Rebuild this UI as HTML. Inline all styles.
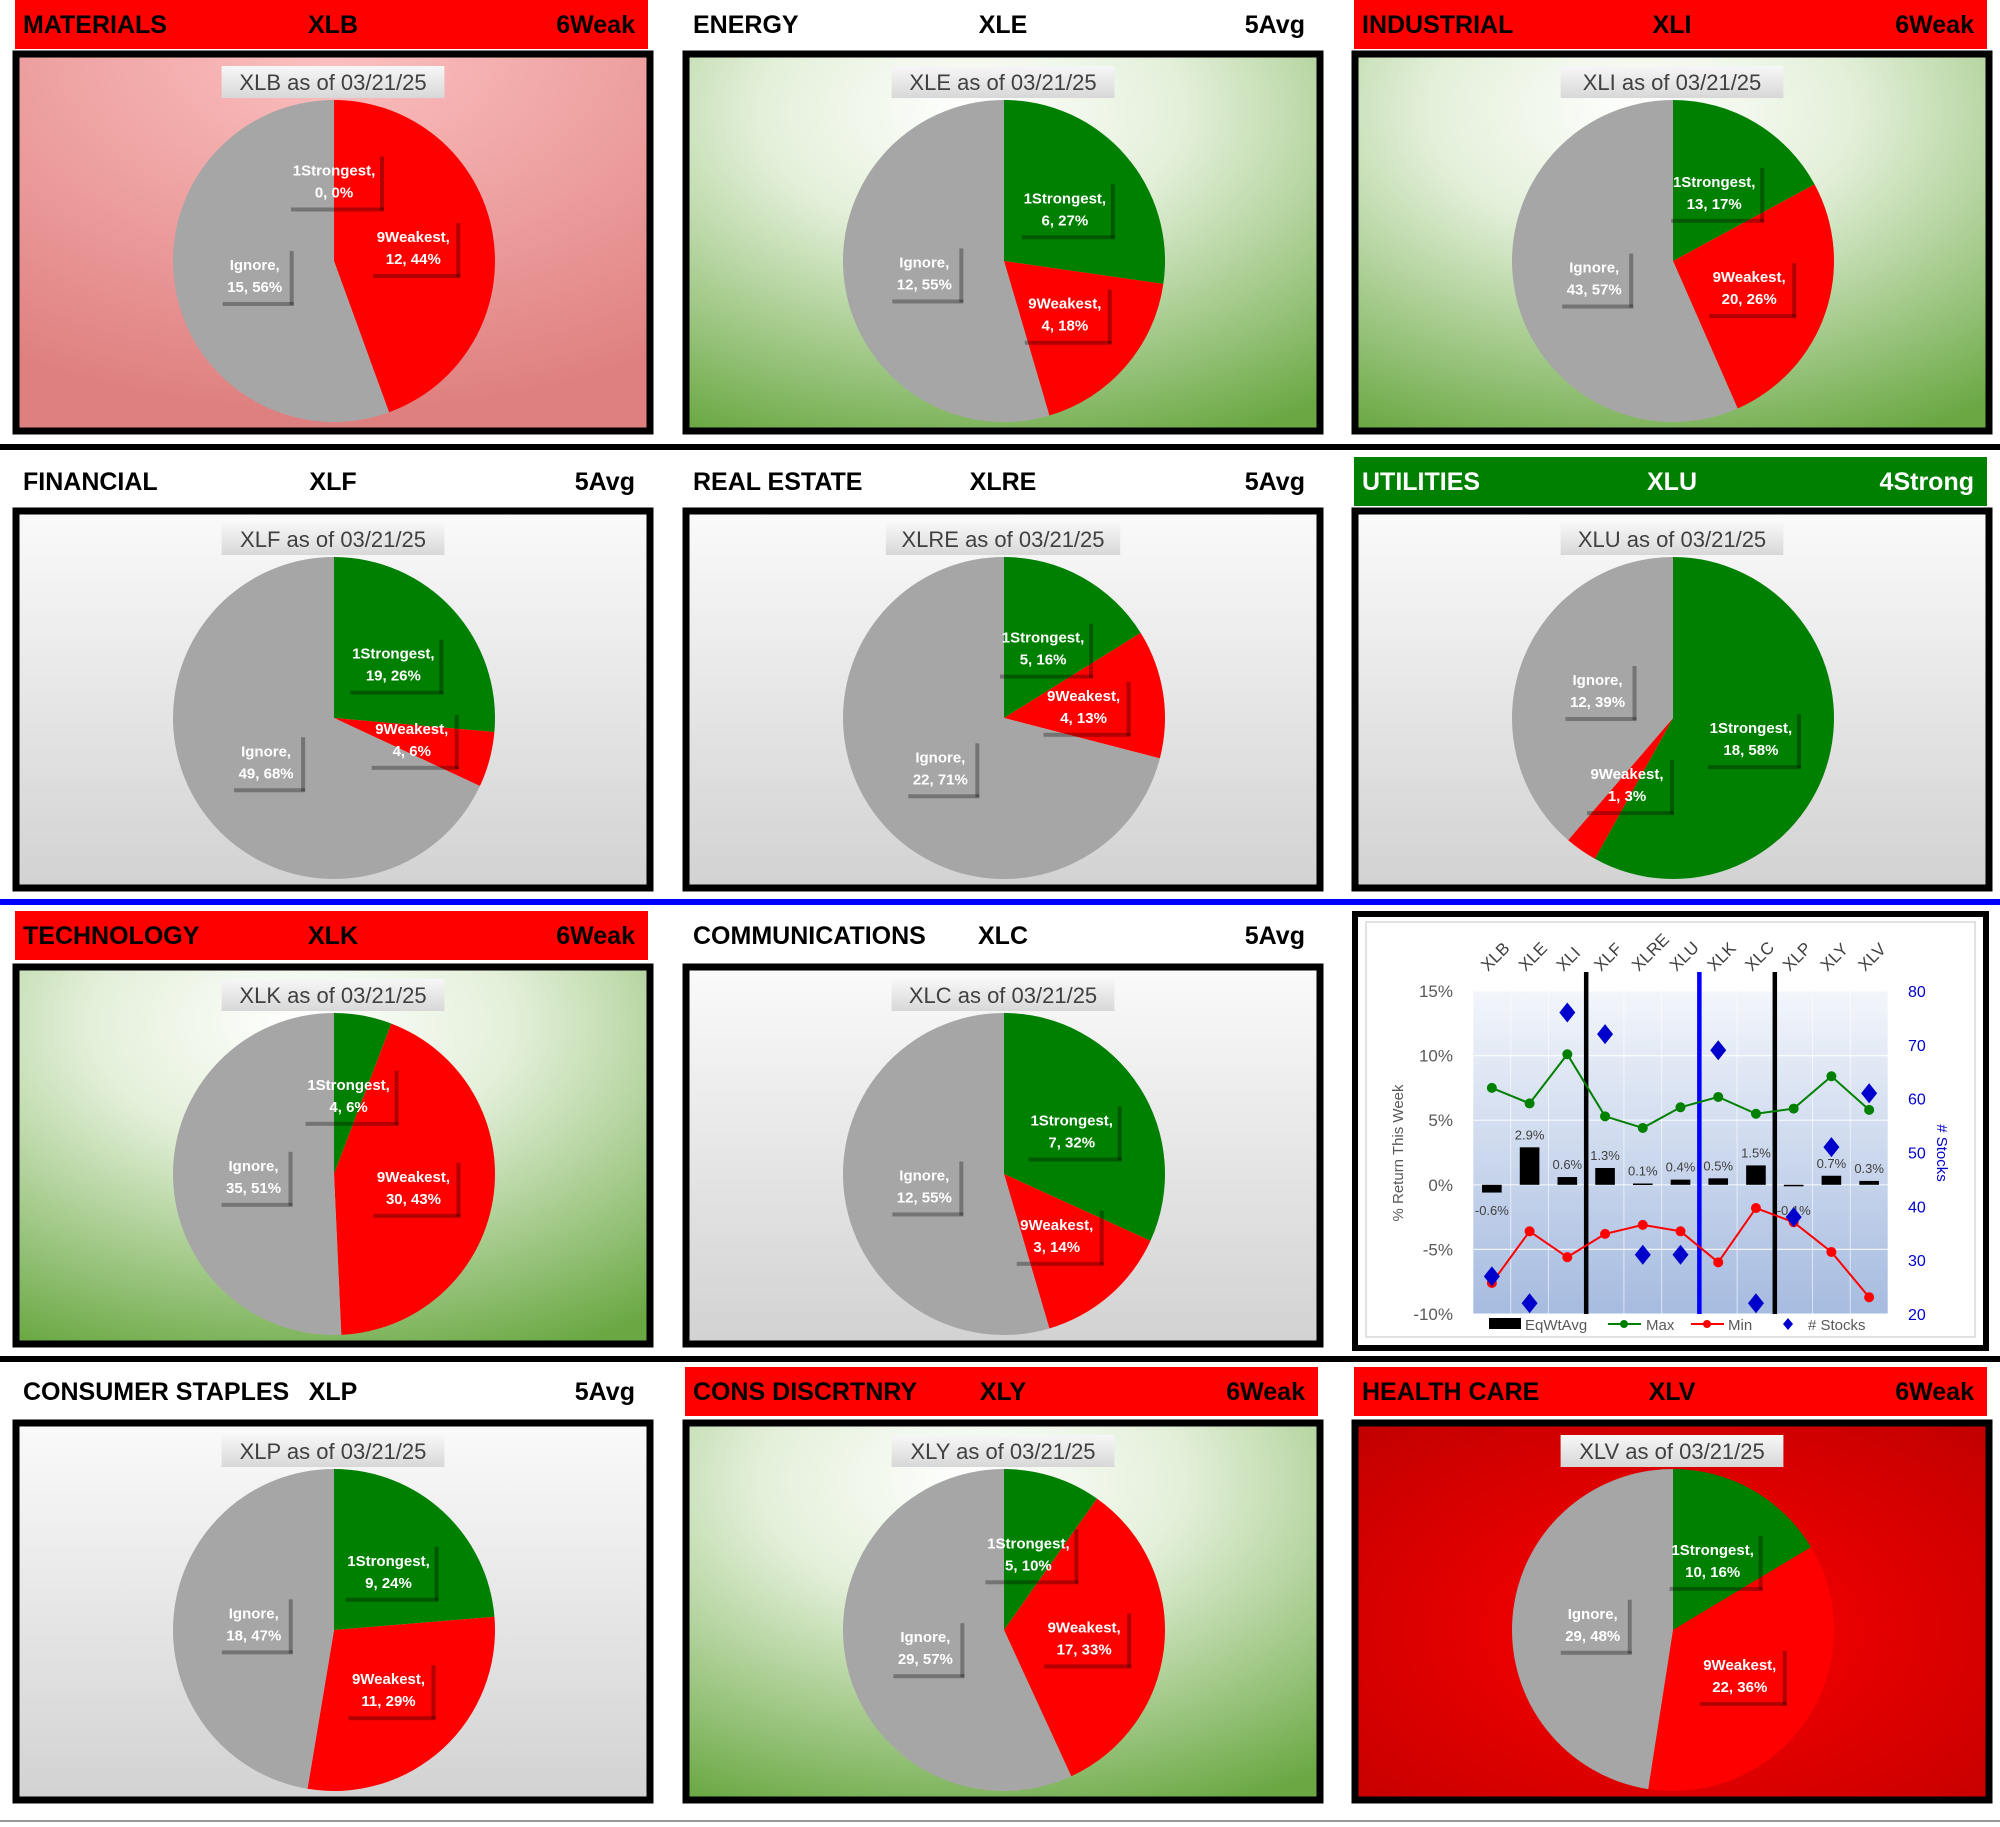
<!DOCTYPE html>
<html><head><meta charset="utf-8"><style>
html,body{margin:0;padding:0;background:#fff;}
svg{display:block;font-family:"Liberation Sans",sans-serif;}
.b{font-weight:bold;}
</style></head><body>
<svg id="s" width="2000" height="1827" viewBox="0 0 2000 1827" xmlns="http://www.w3.org/2000/svg">
<defs>
<radialGradient id="gPink" cx="50%" cy="0%" r="95%"><stop offset="0" stop-color="#fcc0c0"/><stop offset="1" stop-color="#df8080"/></radialGradient>
<radialGradient id="gGreen" cx="45%" cy="15%" r="95%"><stop offset="0" stop-color="#ffffff"/><stop offset="0.35" stop-color="#e4f0da"/><stop offset="1" stop-color="#6aa843"/></radialGradient>
<linearGradient id="gGray" x1="0" y1="0" x2="0" y2="1"><stop offset="0" stop-color="#fafafa"/><stop offset="1" stop-color="#d2d2d2"/></linearGradient>
<radialGradient id="gRed" cx="50%" cy="55%" r="75%"><stop offset="0" stop-color="#ff0000"/><stop offset="1" stop-color="#c00000"/></radialGradient>
<linearGradient id="gTitle" x1="0" y1="0" x2="0" y2="1"><stop offset="0" stop-color="#f7f7f7"/><stop offset="1" stop-color="#d8d8d8"/></linearGradient>
<linearGradient id="gPlot" x1="0" y1="0" x2="0" y2="1"><stop offset="0" stop-color="#f3f6fb"/><stop offset="1" stop-color="#a6bbe0"/></linearGradient>
</defs>
<g id="panels"></g>
<g id="combo"></g>
</svg>
<script>
// ---- pie panel data ----
const tickers = ["XLB","XLE","XLI","XLF","XLRE","XLU","XLK","XLC","XLP","XLY","XLV"];
const sectorNames = ["MATERIALS","ENERGY","INDUSTRIAL","FINANCIAL","REAL ESTATE","UTILITIES","TECHNOLOGY","COMMUNICATIONS","CONSUMER STAPLES","CONS DISCRTNRY","HEALTH CARE"];
const ratings = ["6Weak","5Avg","6Weak","5Avg","5Avg","4Strong","6Weak","5Avg","5Avg","6Weak","6Weak"];
const strongestCounts = [0,6,13,19,5,18,4,7,9,5,10];
const weakestCounts = [12,4,20,4,4,1,30,3,11,17,22];
const ignoreCounts = [15,12,43,49,22,12,35,12,18,29,29];
const panelBg = ["gPink","gGreen","gGreen","gGray","gGray","gGray","gGreen","gGray","gGray","gGreen","gRed"];
const asOf = "03/21/25";

// ---- combo chart data ----
const eqWtAvg = [-0.6,2.9,0.6,1.3,0.1,0.4,0.5,1.5,-0.1,0.7,0.3];
const maxRet = [7.5,6.3,10.1,5.3,4.4,6.0,6.8,5.5,5.9,8.4,5.8];
const minRet = [-7.6,-3.6,-5.6,-3.8,-3.1,-3.6,-6.0,-1.8,-2.9,-5.2,-8.7];
const stockCounts = [27,22,76,72,31,31,69,22,38,51,61];
const leftTicks = [-10,-5,0,5,10,15];
const rightTicks = [20,30,40,50,60,70,80];
const dividerAfter = [2,5,7];

const NS="http://www.w3.org/2000/svg";
function mk(tag,attrs,parent,txt){const e=document.createElementNS(NS,tag);for(const k in attrs)e.setAttribute(k,attrs[k]);if(txt!==undefined)e.textContent=txt;parent.appendChild(e);return e;}

const panels=document.getElementById('panels');
const colL=[13,683,1352];
const rowHeadTop=[0,457,911,1367];
const rowBoxTop=[51,508,964,1420];
let sep;
sep=mk('rect',{x:0,y:444,width:2000,height:6,fill:'#000'},panels);

sep=mk('rect',{x:0,y:899,width:2000,height:6,fill:'#0000ff'},panels);

sep=mk('rect',{x:0,y:1356,width:2000,height:6,fill:'#000'},panels);

sep=mk('rect',{x:0,y:1820,width:2000,height:2,fill:'#999'},panels);


const sliceColors=['#008000','#ff0000','#a6a6a6'];
const sliceNames=['1Strongest','9Weakest','Ignore'];
for(let i=0;i<tickers.length;i++){
  const slot=i<8?i:i+1;
  const col=slot%3,row=Math.floor(slot/3);
  const L=colL[col], ht=rowHeadTop[row], bt=rowBoxTop[row];
  const g=mk('g',{},panels);
  
  
  const r=ratings[i];
  let hf=null, tc='#000';
  if(r.indexOf('Weak')>=0) hf='#ff0000';
  else if(r.indexOf('Strong')>=0){hf='#008000';tc='#fff';}
  if(hf){const hb=mk('rect',{x:L+2,y:ht,width:633,height:49,fill:hf},g);
    }
  let t=mk('text',{x:L+10,y:ht+33,'font-size':25,fill:tc,'class':'b'},g,sectorNames[i]);
  
  t=mk('text',{x:L+320,y:ht+33,'font-size':25,fill:tc,'class':'b','text-anchor':'middle'},g,tickers[i]);
  
  t=mk('text',{x:L+622,y:ht+33,'font-size':25,fill:tc,'class':'b','text-anchor':'end'},g,r);
  
  const bx=mk('rect',{x:L+3,y:bt+3,width:634,height:377,fill:'url(#'+panelBg[i]+')',stroke:'#000','stroke-width':7},g);
  
  const title=tickers[i]+' as of '+asOf;
  const tw=title.length*11.6+14;
  const tr=mk('rect',{x:L+320-tw/2,y:bt+15,width:tw,height:32,fill:'url(#gTitle)'},g);
  
  t=mk('text',{x:L+320,y:bt+39,'font-size':22,fill:'#404040','text-anchor':'middle'},g,title);
  
  const cx=L+321, cy=bt+210, R=161;
  const vals=[strongestCounts[i],weakestCounts[i],ignoreCounts[i]];
  const tot=vals[0]+vals[1]+vals[2];
  let a0=0;
  const mids=[];
  for(let k=0;k<3;k++){
    const frac=vals[k]/tot, a1=a0+frac*2*Math.PI;
    mids.push((a0+a1)/2);
    if(frac>0){
      const x0=cx+R*Math.sin(a0),y0=cy-R*Math.cos(a0),x1=cx+R*Math.sin(a1),y1=cy-R*Math.cos(a1);
      const large=(a1-a0)>Math.PI?1:0;
      const p=mk('path',{d:`M${cx},${cy} L${x0},${y0} A${R},${R} 0 ${large} 1 ${x1},${y1} Z`,fill:sliceColors[k]},g);
      
      
    }
    a0=a1;
  }
  for(let k=0;k<3;k++){
    const lx=cx+0.5*R*Math.sin(mids[k]), ly=cy-0.5*R*Math.cos(mids[k]);
    const pct=Math.round(vals[k]/tot*100);
    const l2=vals[k]+', '+pct+'%';
    const w=k==0?92:(k==1?86:70);
    const lb=mk('g',{},g);
    
    
    // transparent box with shadow on right and bottom edges
    mk('rect',{x:lx+w/2,y:ly-24,width:4,height:54,fill:'#000','fill-opacity':0.3},lb);
    mk('rect',{x:lx-w/2+3,y:ly+27,width:w+1,height:4,fill:'#000','fill-opacity':0.3},lb);
    mk('text',{x:lx,y:ly-5,'font-size':15,fill:'#fff','class':'b','text-anchor':'middle'},lb,sliceNames[k]+',');
    mk('text',{x:lx,y:ly+17,'font-size':15,fill:'#fff','class':'b','text-anchor':'middle'},lb,l2);
  }
}

// ---- combo chart ----
const cg=document.getElementById('combo');
let e=mk('rect',{x:1355,y:914,width:631,height:434,fill:'#fff',stroke:'#000','stroke-width':6},cg);

mk('rect',{x:1366,y:922,width:609,height:415,fill:'none',stroke:'#d9d9d9','stroke-width':1.5},cg);
const PL=1473,PR=1888,PT=991,PB=1314;
const n=tickers.length, cw=(PR-PL)/n;
function yL(v){return PB-(v-(-10))/25*(PB-PT);}
function yR(v){return PB-(v-20)/60*(PB-PT);}
function xC(i){return PL+cw*(i+0.5);}
e=mk('rect',{x:PL,y:PT,width:PR-PL,height:PB-PT,fill:'url(#gPlot)'},cg);

for(let i=0;i<=n;i++) mk('line',{x1:PL+cw*i,y1:PT,x2:PL+cw*i,y2:PB,stroke:'#ffffff','stroke-opacity':0.6,'stroke-width':1},cg);
leftTicks.forEach(v=>{
  mk('line',{x1:PL,y1:yL(v),x2:PR,y2:yL(v),stroke:'#ffffff','stroke-opacity':0.8,'stroke-width':1.2},cg);
  const t=mk('text',{x:PL-20,y:yL(v)+6,'font-size':17,fill:'#595959','text-anchor':'end'},cg,v+'%');
  
});
rightTicks.forEach(v=>{
  const t=mk('text',{x:PR+20,y:yR(v)+6,'font-size':16,fill:'#0000cc'},cg,String(v));
  
});
e=mk('text',{x:1403,y:1153,'font-size':15,fill:'#595959','text-anchor':'middle',transform:'rotate(-90 1403 1153)'},cg,'% Return This Week');

e=mk('text',{x:1937,y:1153,'font-size':15,fill:'#0000cc','text-anchor':'middle',transform:'rotate(90 1937 1153)'},cg,'# Stocks');

tickers.forEach((tk,i)=>{
  const x=xC(i),y=972;
  const t=mk('text',{x:x-4,y:y,'font-size':17,fill:'#404040',transform:`rotate(-45 ${x-4} ${y})`},cg,tk);
  
});
eqWtAvg.forEach((v,i)=>{
  const y0=yL(0),y1=yL(v);
  const b=mk('rect',{x:xC(i)-cw*0.26,y:Math.min(y0,y1),width:cw*0.52,height:Math.max(1.5,Math.abs(y1-y0)),fill:'#000'},cg);
  
  const ly=v>=0?y1-8:y0+30;
  const t=mk('text',{x:xC(i),y:ly,'font-size':13,fill:'#404040','text-anchor':'middle'},cg,v.toFixed(1)+'%');
  
});
dividerAfter.forEach((d,j)=>{
  const x=PL+cw*(d+1);
  const l=mk('line',{x1:x,y1:972,x2:x,y2:PB,stroke:j==1?'#0000ff':'#000','stroke-width':4.5},cg);
  
});
function line(arr,color,name){
  const p=mk('polyline',{points:arr.map((v,i)=>xC(i)+','+yL(v)).join(' '),fill:'none',stroke:color,'stroke-width':2},cg);
  
  arr.forEach((v,i)=>{const c=mk('circle',{cx:xC(i),cy:yL(v),r:5,fill:color},cg);
    });
}
line(maxRet,'#008000','max');
line(minRet,'#ff0000','min');
stockCounts.forEach((v,i)=>{
  const x=xC(i),y=yR(v),s=10;
  const d=mk('path',{d:`M${x},${y-s} L${x+s*0.8},${y} L${x},${y+s} L${x-s*0.8},${y} Z`,fill:'#0000cc'},cg);
  
});
const lg=mk('g',{},cg);

mk('rect',{x:1489,y:1318,width:32,height:11,fill:'#000'},lg);
mk('text',{x:1525,y:1330,'font-size':15,fill:'#595959'},lg,'EqWtAvg');
mk('line',{x1:1608,y1:1324,x2:1641,y2:1324,stroke:'#008000','stroke-width':2},lg);
mk('circle',{cx:1624,cy:1324,r:4,fill:'#008000'},lg);
mk('text',{x:1646,y:1330,'font-size':15,fill:'#595959'},lg,'Max');
mk('line',{x1:1691,y1:1324,x2:1724,y2:1324,stroke:'#ff0000','stroke-width':2},lg);
mk('circle',{cx:1707,cy:1324,r:4,fill:'#ff0000'},lg);
mk('text',{x:1728,y:1330,'font-size':15,fill:'#595959'},lg,'Min');
mk('path',{d:'M1788,1318 L1793,1324 L1788,1330 L1783,1324 Z',fill:'#0000cc'},lg);
mk('text',{x:1808,y:1330,'font-size':15,fill:'#595959'},lg,'# Stocks');
</script>
</body></html>
